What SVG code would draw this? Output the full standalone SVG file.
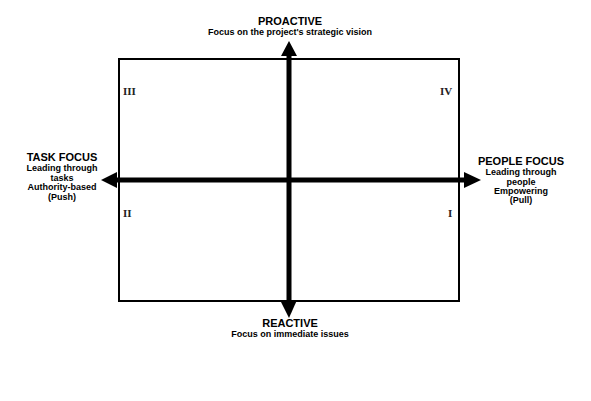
<svg xmlns="http://www.w3.org/2000/svg" width="591" height="401" viewBox="0 0 591 401">
<style>
.t{font-family:"Liberation Sans",Arial,sans-serif;font-weight:bold;fill:#000;text-anchor:middle}
.h{font-size:11px}
.s{font-size:9px}
.r{font-family:"Liberation Serif","Times New Roman",serif;font-weight:bold;font-size:11px;fill:#222}
.ax{stroke:#000;stroke-width:5;fill:none}
</style>
<rect width="591" height="401" fill="#fff"/>
<g id="frame"><rect x="119" y="59" width="340" height="242" fill="none" stroke="#000" stroke-width="2"/></g>
<g id="connectors">
<line class="ax" x1="289" y1="54" x2="289" y2="302"/>
<polygon points="289,41 281,56 297,56"/>
<polygon points="289,318 280,300 297,300"/>
<line class="ax" x1="116" y1="180" x2="466" y2="180"/>
<polygon points="101,180 117,172 117,188"/>
<polygon points="481,180 464,172 464,188"/>
</g>
<g id="proactive"><text class="t h" x="290" y="25">PROACTIVE</text><text class="t s" x="290" y="35">Focus on the project's strategic vision</text></g>
<g id="reactive"><text class="t h" x="290" y="327">REACTIVE</text><text class="t s" x="290" y="337">Focus on immediate issues</text></g>
<g id="task"><text class="t h" x="62" y="161">TASK FOCUS</text><text class="t s" x="62" y="171">Leading through</text><text class="t s" x="62" y="180.5">tasks</text><text class="t s" x="62" y="190">Authority-based</text><text class="t s" x="62" y="199.5">(Push)</text></g>
<g id="people"><text class="t h" x="521" y="165">PEOPLE FOCUS</text><text class="t s" x="521" y="175">Leading through</text><text class="t s" x="521" y="185">people</text><text class="t s" x="521" y="194">Empowering</text><text class="t s" x="521" y="203">(Pull)</text></g>
<g id="q3"><text class="r" x="123" y="95">III</text></g>
<g id="q4"><text class="r" x="440" y="95">IV</text></g>
<g id="q2"><text class="r" x="123" y="217">II</text></g>
<g id="q1"><text class="r" x="448" y="217">I</text></g>
</svg>
